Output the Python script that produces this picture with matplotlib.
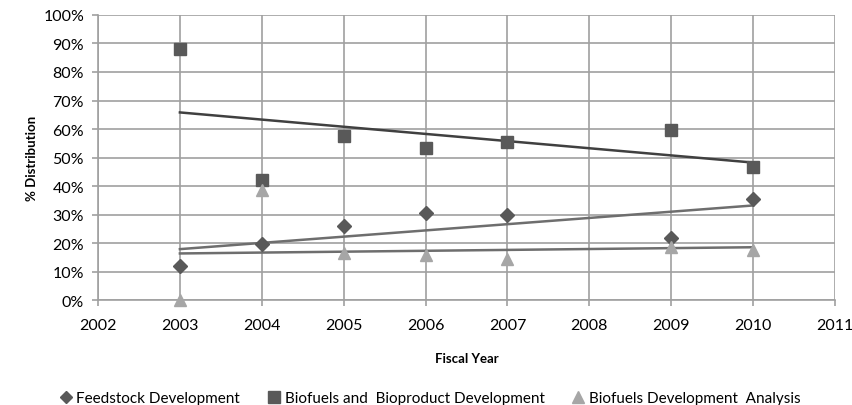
"""
Fiscal year % distribution with linear trendlines
"""
import matplotlib
matplotlib.use('Agg')
import matplotlib.pyplot as plt
import numpy as np
from matplotlib.ticker import PercentFormatter

plt.rcParams['font.family'] = ['Lato', 'DejaVu Sans']

years = [2003, 2004, 2005, 2006, 2007, 2009, 2010]
feedstock = [12.0, 19.5, 26.0, 30.5, 30.0, 21.8, 35.5]
biofuels_bioproduct = [88.0, 42.0, 57.5, 53.5, 55.5, 59.6, 46.8]
biofuels_analysis = [0.0, 38.5, 16.6, 15.8, 14.4, 18.6, 17.6]

series = [
    ('Feedstock Development', feedstock, 'D', '#595959', 7, '#6e6e6e'),
    ('Biofuels and  Bioproduct Development', biofuels_bioproduct, 's', '#595959', 9, '#404040'),
    ('Biofuels Development  Analysis', biofuels_analysis, '^', '#a6a6a6', 9, '#6e6e6e'),
]

fig = plt.figure(figsize=(8.53, 4.06), dpi=100)
ax = fig.add_axes([0.1149, 0.2586, 0.8640, 0.7020])

x = np.array(years)
handles = []
for label, vals, marker, color, ms, tcolor in series:
    h, = ax.plot(years, vals, linestyle='none', marker=marker, color=color,
                 markersize=ms, label=label, zorder=3, clip_on=False)
    handles.append(h)
    k, b = np.polyfit(x, vals, 1)
    xs = np.array([x.min(), x.max()])
    ax.plot(xs, k * xs + b, color=tcolor, linewidth=1.8, zorder=2)

ax.set_xlim(2002, 2011)
ax.set_ylim(0, 100)
ax.set_xticks(range(2002, 2012))
ax.set_yticks(range(0, 101, 10))
ax.yaxis.set_major_formatter(PercentFormatter(decimals=0))
ax.grid(True, color='#a0a0a0', linewidth=1.2)
ax.set_axisbelow(True)
for s in ['top', 'right']:
    ax.spines[s].set_visible(False)
for s in ['left', 'bottom']:
    ax.spines[s].set_color('#a0a0a0')
    ax.spines[s].set_linewidth(1.2)
ax.tick_params(axis='both', colors='#a0a0a0', labelcolor='black', labelsize=11.5,
               length=4, width=1.2)
ax.tick_params(axis='x', pad=9)
ax.tick_params(axis='y', pad=6)

ax.set_xlabel('Fiscal Year', fontsize=9.5, fontweight='bold', labelpad=14)
ax.set_ylabel('% Distribution', fontsize=9.5, fontweight='bold', labelpad=4)

fig.legend(handles=handles, loc='lower center', bbox_to_anchor=(0.505, -0.035),
           ncol=3, frameon=False, fontsize=11, handlelength=0.6,
           handletextpad=0.4, columnspacing=1.9, markerscale=0.9)

plt.savefig('out.png', dpi=100, facecolor='white')
plt.close()
